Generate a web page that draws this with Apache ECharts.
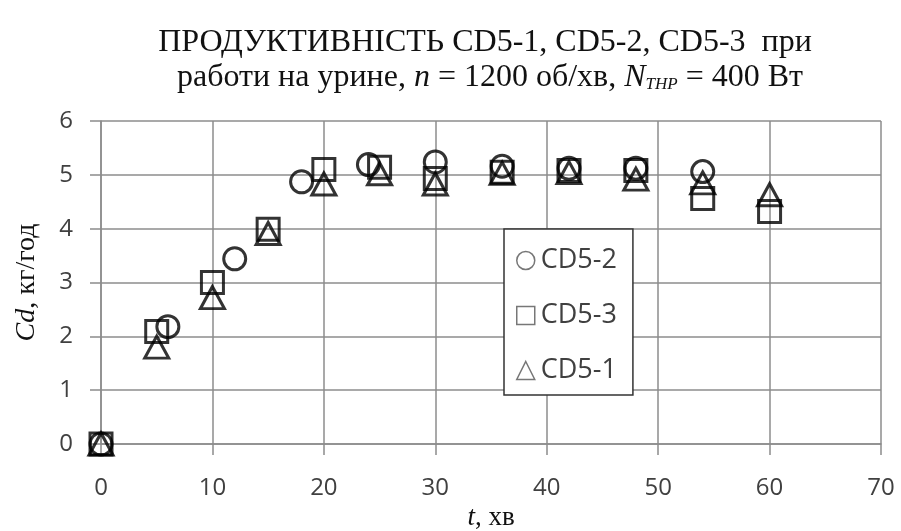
<!DOCTYPE html>
<html>
<head>
<meta charset="utf-8">
<script src="https://cdn.jsdelivr.net/npm/echarts@6/dist/echarts.min.js"></script>
<style>
  html, body { margin: 0; padding: 0; background: #fff; }
  #chart { width: 901px; height: 531px; }
</style>
</head>
<body>
<div id="chart"></div>
<script>
// Productivity Cd (kg/h) over time t (min) for three units
const tCD52 = [0, 6, 12, 18, 24, 30, 36, 42, 48, 54];
const cdCD52 = [0, 2.18, 3.44, 4.87, 5.19, 5.24, 5.16, 5.12, 5.12, 5.06];

const tCD53 = [0, 5, 10, 15, 20, 25, 30, 36, 42, 48, 54, 60];
const cdCD53 = [0, 2.09, 3.0, 3.99, 5.1, 5.14, 4.93, 5.05, 5.08, 5.08, 4.56, 4.32];

const tCD51 = [0, 5, 10, 15, 20, 25, 30, 36, 42, 48, 54, 60];
const cdCD51 = [0, 1.8, 2.72, 3.91, 4.83, 5.02, 4.83, 5.03, 5.04, 4.92, 4.85, 4.63];

const xTicks = [0, 10, 20, 30, 40, 50, 60, 70];
const yTicks = [0, 1, 2, 3, 4, 5, 6];

const pairs = (xs, ys) => xs.map((x, i) => [x, ys[i]]);

const chart = echarts.init(document.getElementById('chart'));

const markerStyle = {
  color: 'rgba(0,0,0,0)',
  borderColor: '#000',
  borderWidth: 3
};

const labelFont = '"Open Sans", "Liberation Sans", sans-serif';
const serifFont = '"Liberation Serif", "DejaVu Serif", serif';

chart.setOption({
  animation: false,
  backgroundColor: '#fff',
  graphic: [
    {
      type: 'text',
      x: 485,
      y: 27,
      style: {
        text: 'ПРОДУКТИВНІСТЬ CD5-1, CD5-2, CD5-3  при',
        font: '32px ' + serifFont,
        align: 'center',
        fill: '#111'
      }
    },
    {
      type: 'text',
      x: 490,
      y: 54,
      style: {
        text: '{a|работи на урине, }{i|n}{a| = 1200 об/хв, }{i|N}{s|THP}{a| = 400 Вт}',
        align: 'center',
        fill: '#111',
        rich: {
          a: { fontFamily: serifFont, fontSize: 32, fill: '#111', height: 34 },
          i: { fontFamily: serifFont, fontSize: 32, fontStyle: 'italic', fill: '#111', height: 34 },
          s: { fontFamily: serifFont, fontSize: 17, fontStyle: 'italic', fill: '#111', height: 34, verticalAlign: 'bottom', padding: [14, 0, 0, 0] }
        }
      }
    }
  ],
  grid: { left: 101, right: 20, top: 121, bottom: 87, containLabel: false, outerBoundsMode: 'none' },
  xAxis: {
    type: 'value',
    min: xTicks[0],
    max: xTicks[xTicks.length - 1],
    interval: 10,
    name: '{i|t}{a|, хв}',
    nameLocation: 'middle',
    nameGap: 56,
    nameTextStyle: {
      rich: {
        i: { fontFamily: serifFont, fontSize: 27, fontStyle: 'italic', color: '#111' },
        a: { fontFamily: serifFont, fontSize: 27, color: '#111' }
      }
    },
    axisLine: { show: true, lineStyle: { color: '#8c8c8c', width: 1.5 } },
    axisTick: { show: true, inside: false, length: 11, lineStyle: { color: '#8c8c8c', width: 1.5 } },
    axisLabel: { fontFamily: labelFont, fontSize: 24, color: '#404040', margin: 32 },
    splitLine: { show: true, lineStyle: { color: '#8c8c8c', width: 1.5 } }
  },
  yAxis: {
    type: 'value',
    min: yTicks[0],
    max: yTicks[yTicks.length - 1],
    interval: 1,
    name: '{i|Cd}{a|, кг/год}',
    nameLocation: 'middle',
    nameRotate: 90,
    nameGap: 60,
    nameTextStyle: {
      rich: {
        i: { fontFamily: serifFont, fontSize: 28, fontStyle: 'italic', color: '#111' },
        a: { fontFamily: serifFont, fontSize: 28, color: '#111' }
      }
    },
    axisLine: { show: true, lineStyle: { color: '#8c8c8c', width: 1.5 } },
    axisTick: { show: true, inside: false, length: 11, lineStyle: { color: '#8c8c8c', width: 1.5 } },
    axisLabel: { fontFamily: labelFont, fontSize: 24, color: '#404040', margin: 28 },
    splitLine: { show: true, lineStyle: { color: '#8c8c8c', width: 1.5 } }
  },
  legend: {
    orient: 'vertical',
    left: 504,
    top: 229,
    width: 128,
    padding: [18, 16, 11, 12],
    itemGap: 28,
    itemWidth: 18,
    itemHeight: 18,
    backgroundColor: '#fff',
    borderColor: '#333',
    borderWidth: 1.5,
    borderRadius: 0,
    textStyle: { fontFamily: labelFont, fontSize: 27, color: '#404040', padding: [0, 0, 0, 1] },
    itemStyle: { color: 'rgba(0,0,0,0)', borderColor: '#555', borderWidth: 1.5 },
    data: [
      { name: 'CD5-2', icon: 'circle' },
      { name: 'CD5-3', icon: 'rect' },
      { name: 'CD5-1', icon: 'triangle' }
    ]
  },
  series: [
    {
      name: 'CD5-2',
      type: 'scatter',
      symbol: 'circle',
      symbolSize: 22,
      itemStyle: markerStyle,
      data: pairs(tCD52, cdCD52)
    },
    {
      name: 'CD5-3',
      type: 'scatter',
      symbol: 'rect',
      symbolSize: 22,
      itemStyle: markerStyle,
      data: pairs(tCD53, cdCD53)
    },
    {
      name: 'CD5-1',
      type: 'scatter',
      symbol: 'triangle',
      symbolSize: [24, 22],
      itemStyle: markerStyle,
      data: pairs(tCD51, cdCD51)
    }
  ]
});
</script>
</body>
</html>
